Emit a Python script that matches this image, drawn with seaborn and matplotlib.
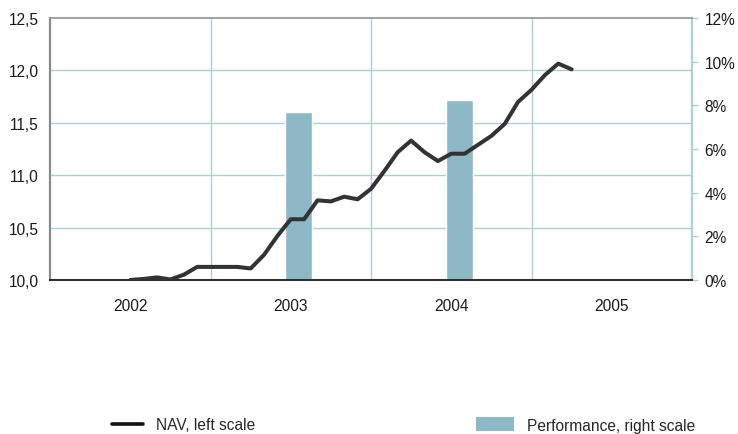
import numpy as np
import pandas as pd
import matplotlib
matplotlib.use("Agg")
import matplotlib.pyplot as plt
import seaborn as sns
from matplotlib.lines import Line2D
from matplotlib.patches import Patch

# ---------------- data ----------------
years = [2002, 2003, 2004, 2005]
year_labels = ["2002", "2003", "2004", "2005"]

nav_months = pd.date_range("2002-07-01", periods=34, freq="MS")
nav_values = [10.00, 10.01, 10.025, 10.005, 10.05, 10.125, 10.125, 10.125,
              10.125, 10.11, 10.24, 10.42, 10.58, 10.58, 10.76, 10.75,
              10.795, 10.77, 10.87, 11.04, 11.22, 11.33, 11.22, 11.135,
              11.205, 11.205, 11.29, 11.375, 11.49, 11.70, 11.815, 11.955,
              12.065, 12.01]

perf_years = [2003, 2004]
perf_values = [7.7, 8.25]

left_ticks = [10.0, 10.5, 11.0, 11.5, 12.0, 12.5]
left_labels = ["10,0", "10,5", "11,0", "11,5", "12,0", "12,5"]
right_ticks = [0, 2, 4, 6, 8, 10, 12]
right_labels = ["0%", "2%", "4%", "6%", "8%", "10%", "12%"]

legend_labels = ["NAV, left scale", "Performance, right scale"]

# ---------------- style ----------------
sns.set_style("white")
plt.rcParams["font.family"] = ["Liberation Sans", "DejaVu Sans"]
FS = 11.2
plt.rcParams["font.size"] = FS

LINE_C = "#333333"
BAR_C = "#8db9c6"
GRID_C = "#a9cfd8"
TEXT_C = "#1a1a1a"

W, H = 738, 435
fig = plt.figure(figsize=(W / 100, H / 100), dpi=100)
fig.patch.set_facecolor("white")

L, R, T, B = 50, 692, 19, 281
rect = [L / W, 1 - B / H, (R - L) / W, (B - T) / H]
ax = fig.add_axes(rect)
ax2 = ax.twinx()

# layering: bars axis (ax2) below, line axis (ax) above
ax2.set_zorder(1)
ax.set_zorder(2)
ax.patch.set_visible(False)
ax2.patch.set_visible(True)
ax2.patch.set_facecolor("white")

# x positions (fractional years)
nav_x = nav_months.year + (nav_months.month - 1) / 12.0
bar_x = [y + 0.55 for y in perf_years]

# bars on right scale
sns.barplot(x=bar_x, y=perf_values, native_scale=True, ax=ax2,
            color=BAR_C, width=1 / 6, errorbar=None, saturation=1,
            zorder=2)

# NAV line on left scale
sns.lineplot(x=nav_x, y=nav_values, ax=ax, color=LINE_C, linewidth=2.9,
             zorder=3)

# limits
ax.set_xlim(2002, 2006)
ax.set_ylim(10.0, 12.5)
ax2.set_ylim(0, 12)

# x ticks: boundaries (major, grid) and centres (minor, labels)
ax.set_xticks([y + 1 for y in years[:-1]])
ax.set_xticklabels([""] * (len(years) - 1))
ax.set_xticks([y + 0.5 for y in years], minor=True)
ax.set_xticklabels(year_labels, minor=True)
ax.tick_params(axis="x", which="both", length=0, labelsize=FS,
               colors=TEXT_C, pad=13)
ax.set_xlabel("")

# left y
ax.set_yticks(left_ticks)
ax.set_yticklabels(left_labels)
ax.tick_params(axis="y", length=0, labelsize=FS, colors=TEXT_C, pad=8)
ax.set_ylabel("")
ax.grid(False)

# right y
ax2.set_yticks(right_ticks)
ax2.set_yticklabels(right_labels)
ax2.tick_params(axis="y", which="major", length=4, width=1, color=GRID_C,
                labelsize=FS, labelcolor=TEXT_C, pad=5, right=True)
ax2.set_yticks([(v - left_ticks[0]) / (left_ticks[-1] - left_ticks[0]) * right_ticks[-1]
                for v in left_ticks[1:-1]], minor=True)
ax2.tick_params(axis="y", which="minor", length=0)
ax2.set_ylabel("")

# grids on the bar axis, below the bars
ax2.xaxis.set_visible(True)
ax2.tick_params(axis="x", which="both", bottom=False, top=False,
                labelbottom=False, labeltop=False)
ax2.set_axisbelow(True)
ax2.grid(False)
ax2.grid(True, axis="y", which="minor", color=GRID_C, linewidth=1)
ax2.grid(True, axis="x", which="major", color=GRID_C, linewidth=1)
ax2.set_xlabel("")

# spines
for s in ax2.spines.values():
    s.set_visible(False)
ax.spines["left"].set_color("#8a8a8a")
ax.spines["left"].set_linewidth(1.6)
ax.spines["top"].set_color("#999999")
ax.spines["top"].set_linewidth(1.3)
ax.spines["bottom"].set_color("#2a2a2a")
ax.spines["bottom"].set_linewidth(1.4)
ax.spines["right"].set_color(GRID_C)
ax.spines["right"].set_linewidth(1.6)

# legends
leg_y = 1 - 426 / H
fig.legend(handles=[Line2D([], [], color="#111111", linewidth=2.6)],
           labels=[legend_labels[0]], loc="center left",
           bbox_to_anchor=(112 / W, leg_y), frameon=False,
           handlelength=2.0, handletextpad=0.85, borderpad=0,
           borderaxespad=0, fontsize=FS)
fig.legend(handles=[Patch(facecolor=BAR_C, edgecolor="none")],
           labels=[legend_labels[1]], loc="center left",
           bbox_to_anchor=(476 / W, leg_y), frameon=False,
           handlelength=2.45, handleheight=0.95, handletextpad=0.8,
           borderpad=0, borderaxespad=0, fontsize=FS)

fig.savefig("out.png", dpi=100, facecolor="white")
